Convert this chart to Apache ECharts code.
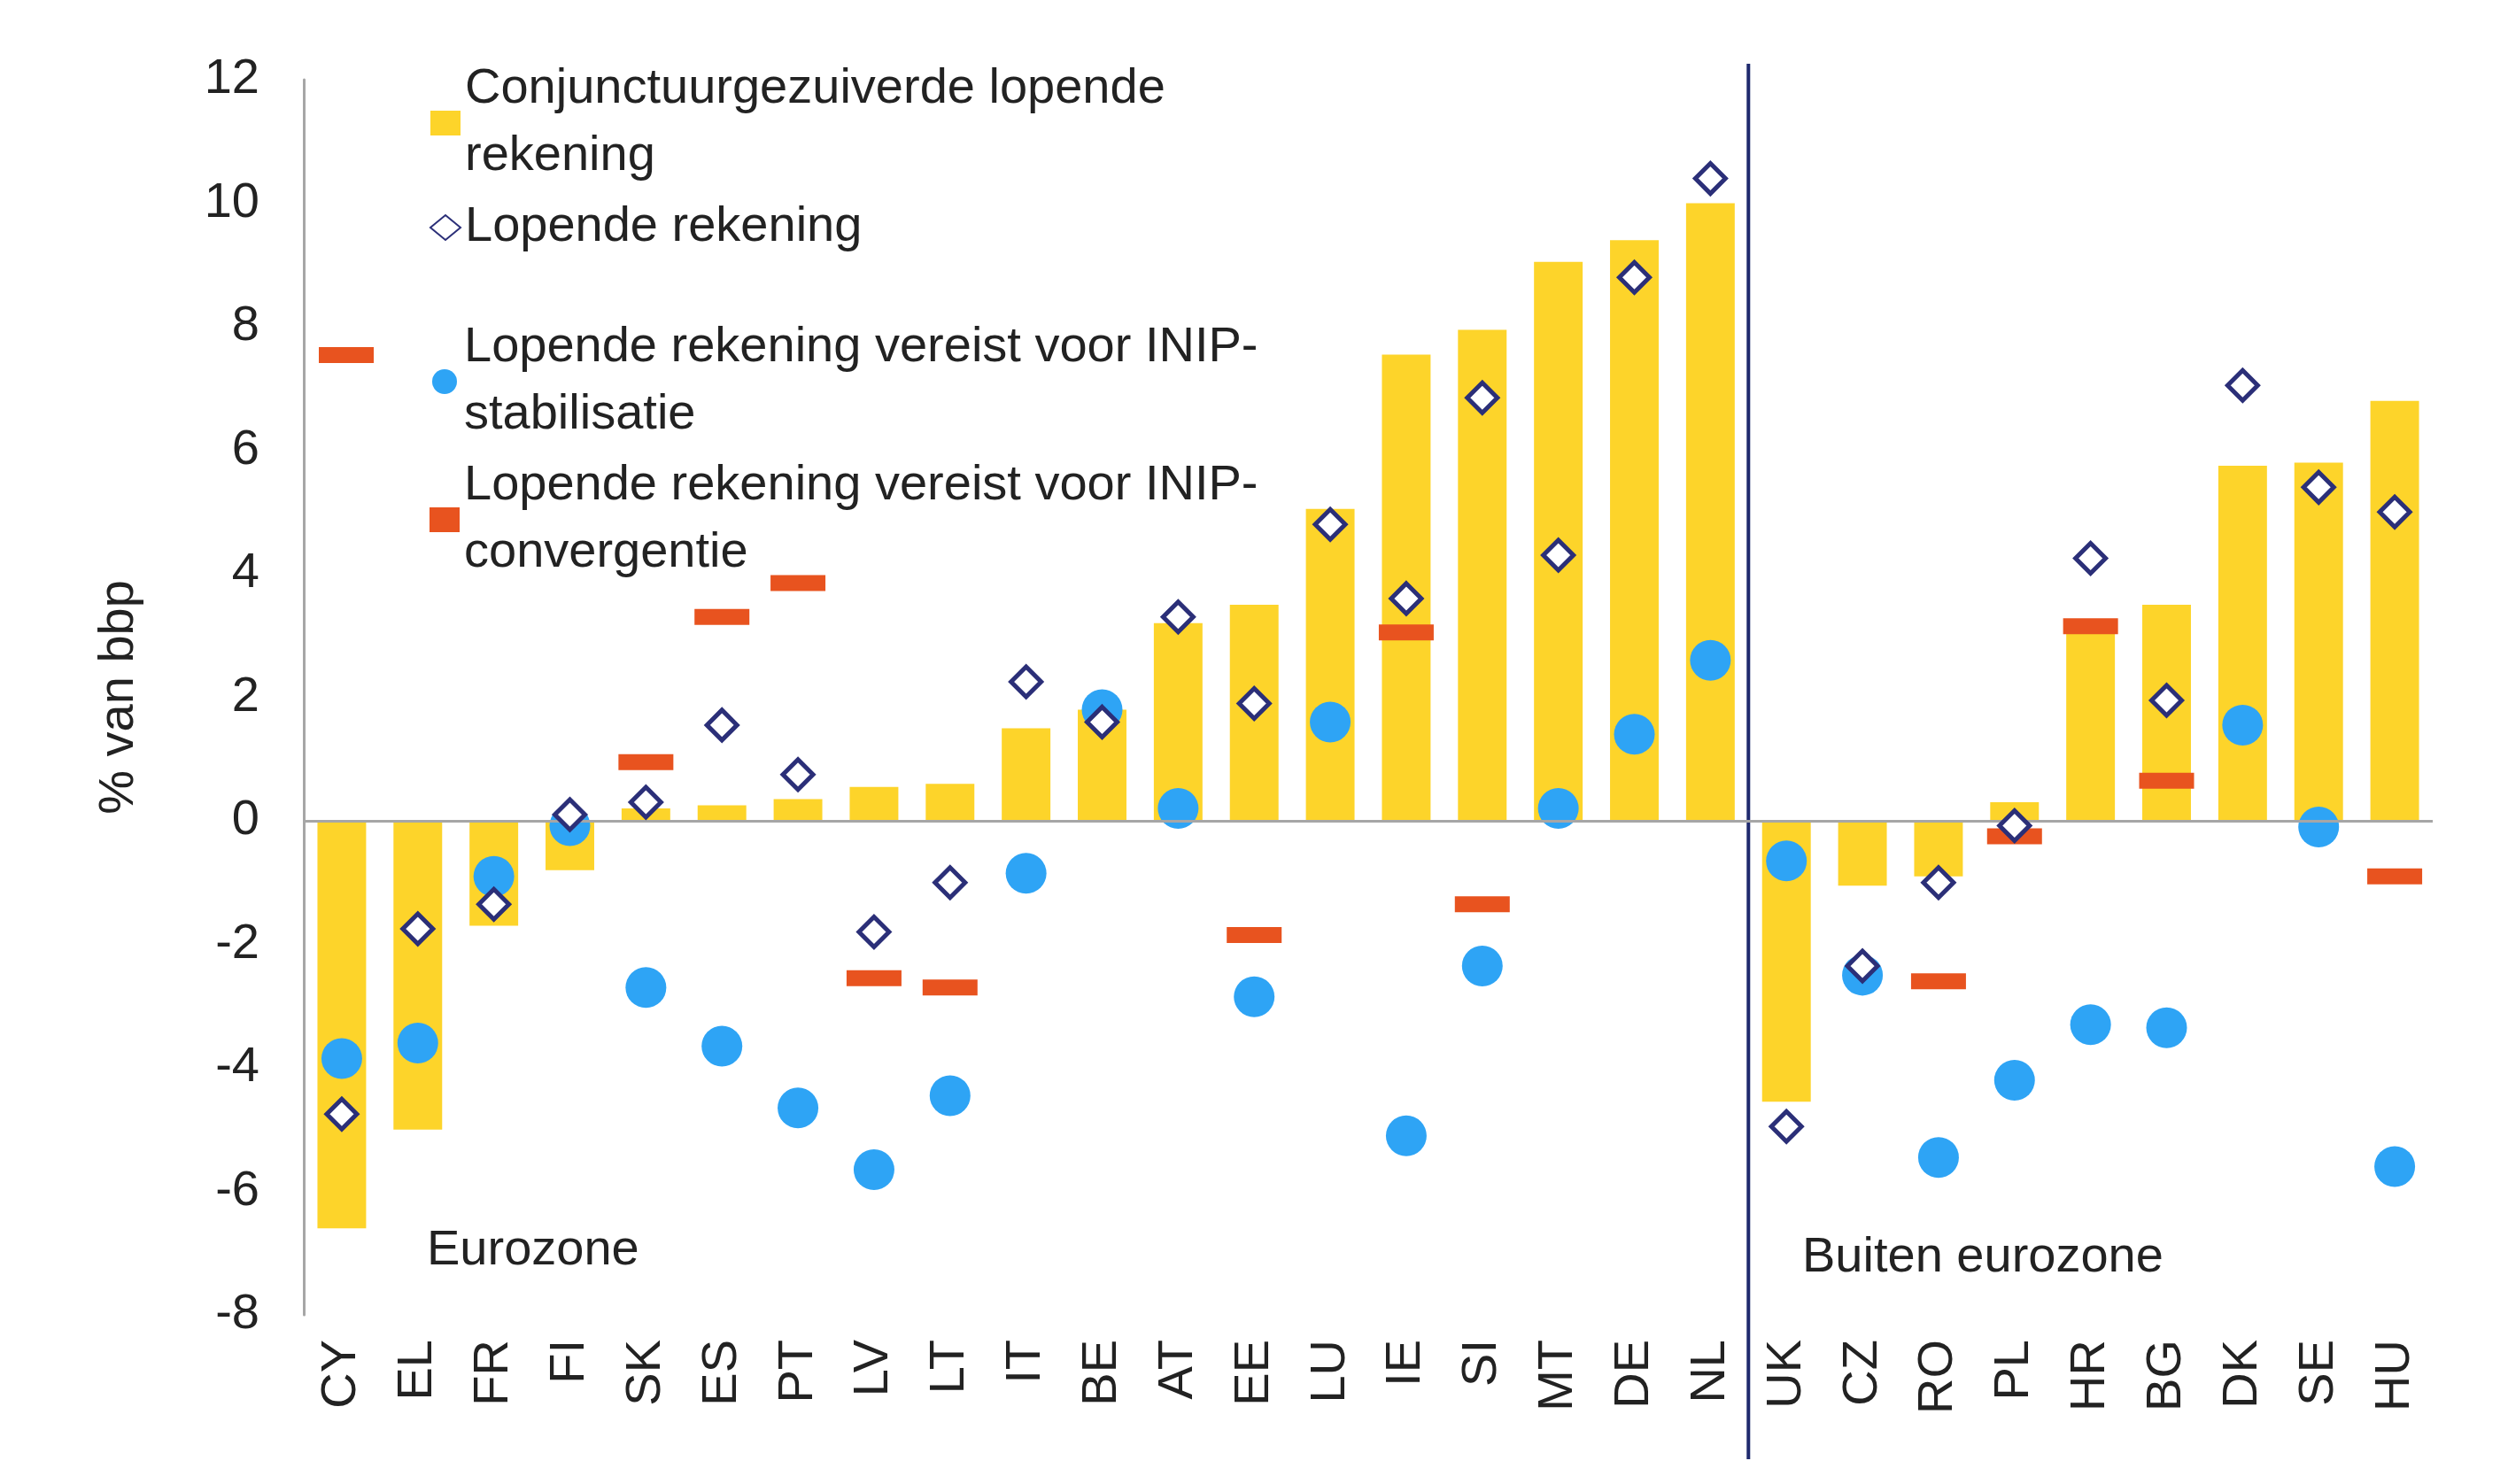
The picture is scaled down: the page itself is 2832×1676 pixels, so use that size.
<!DOCTYPE html>
<html><head><meta charset="utf-8">
<script src="https://cdn.jsdelivr.net/npm/echarts@6/dist/echarts.min.js"></script>
<style>html,body{margin:0;padding:0;background:#fff}#c{width:2832px;height:1676px}</style>
</head><body><div id="c"></div>
<script>
var categories = ['CY','EL','FR','FI','SK','ES','PT','LV','LT','IT','BE','AT','EE','LU','IE','SI','MT','DE','NL','UK','CZ','RO','PL','HR','BG','DK','SE','HU'];
var adjusted = [-6.6,-5.0,-1.7,-0.8,0.2,0.25,0.35,0.55,0.6,1.5,1.8,3.2,3.5,5.05,7.55,7.95,9.05,9.4,10.0,-4.55,-1.05,-0.9,0.3,3.2,3.5,5.75,5.8,6.8];
var current = [-4.75,-1.75,-1.35,0.1,0.3,1.55,0.75,-1.8,-1.0,2.25,1.6,3.3,1.9,4.8,3.6,6.85,4.3,8.8,10.4,-4.95,-2.35,-1.0,-0.08,4.25,1.95,7.05,5.4,5.0];
var stabil = [-3.85,-3.6,-0.9,-0.08,-2.7,-3.65,-4.65,-5.65,-4.45,-0.85,1.8,0.2,-2.85,1.6,-5.1,-2.35,0.2,1.4,2.6,-0.65,-2.5,-5.45,-4.2,-3.3,-3.35,1.55,-0.1,-5.6];
var converg = [null,null,null,null,0.95,3.3,3.85,-2.55,-2.7,null,null,null,-1.85,null,3.05,-1.35,null,null,null,null,null,-2.6,-0.25,3.15,0.65,null,null,-0.9];
var yTicks = [-8,12,2];

var font = 'Liberation Sans, Arial, sans-serif';
var legendText = {fontFamily: font, fontSize: 56, color: '#222', lineHeight: 76};
var chart = echarts.init(document.getElementById('c'));
chart.setOption({
  animation: false,
  grid: {left: 343, right: 85, top: 90, bottom: 191, containLabel: false, outerBoundsMode: 'none'},
  legend: [
    {orient: 'vertical', left: 480, top: 58, itemGap: 4, itemWidth: 34, itemHeight: 28, textStyle: legendText,
      data: [{name: 'Conjunctuurgezuiverde lopende\nrekening', icon: 'rect'}, {name: 'Lopende rekening'}]},
    {orient: 'vertical', left: 480, top: 350, itemGap: 4, itemWidth: 34, itemHeight: 28, textStyle: legendText,
      data: [{name: 'Lopende rekening vereist voor INIP-\nstabilisatie', icon: 'circle'},
             {name: 'Lopende rekening vereist voor INIP-\nconvergentie', icon: 'rect'}]}
  ],
  xAxis: {
    type: 'category', data: categories,
    axisLine: {onZero: false, show: false},
    axisTick: {show: false},
    axisLabel: {rotate: 90, fontFamily: font, fontSize: 56, color: '#222', margin: 28}
  },
  yAxis: {
    type: 'value', min: yTicks[0], max: yTicks[1], interval: yTicks[2],
    name: '% van bbp', nameLocation: 'middle', nameGap: 180, nameRotate: 90,
    nameTextStyle: {fontFamily: font, fontSize: 56, color: '#222'},
    axisLine: {show: true, lineStyle: {color: '#a6a6a6', width: 3}},
    axisTick: {show: false}, splitLine: {show: false},
    axisLabel: {fontFamily: font, fontSize: 56, color: '#222', margin: 50}
  },
  series: [
    {name: 'Conjunctuurgezuiverde lopende\nrekening', type: 'bar', data: adjusted, barWidth: '64%',
      itemStyle: {color: '#fdd42a'},
      markLine: {silent: true, symbol: 'none', label: {show: false},
        lineStyle: {color: '#a6a6a6', width: 3, type: 'solid'}, data: [{yAxis: 0}]}},
    {name: 'Lopende rekening', type: 'scatter', data: current, symbol: 'diamond', symbolSize: 34,
      itemStyle: {color: '#fff', borderColor: '#2b2f78', borderWidth: 5, opacity: 1}, z: 5},
    {name: 'Lopende rekening vereist voor INIP-\nstabilisatie', type: 'scatter', data: stabil, symbol: 'circle', symbolSize: 46,
      itemStyle: {color: '#2ea4f5', opacity: 1}, z: 4},
    {name: 'Lopende rekening vereist voor INIP-\nconvergentie', type: 'scatter', data: converg, symbol: 'rect', symbolSize: [62, 18],
      itemStyle: {color: '#e8531f', opacity: 1}, z: 3}
  ]
});

var xNL = chart.convertToPixel({xAxisIndex: 0}, 'NL');
var xUK = chart.convertToPixel({xAxisIndex: 0}, 'UK');
var xSep = (xNL + xUK) / 2;
chart.setOption({
  graphic: [
    {type: 'line', shape: {x1: xSep, y1: 72, x2: xSep, y2: 1648}, style: {stroke: '#1f2a6e', lineWidth: 4}},
    {type: 'text', left: 482, top: 1385, style: {text: 'Eurozone', font: '56px ' + font, fill: '#222'}},
    {type: 'text', left: 2035, top: 1393, style: {text: 'Buiten eurozone', font: '56px ' + font, fill: '#222'}},
    {type: 'rect', shape: {x: 360, y: 392, width: 62, height: 18}, style: {fill: '#e8531f'}}
  ]
});
</script></body></html>
